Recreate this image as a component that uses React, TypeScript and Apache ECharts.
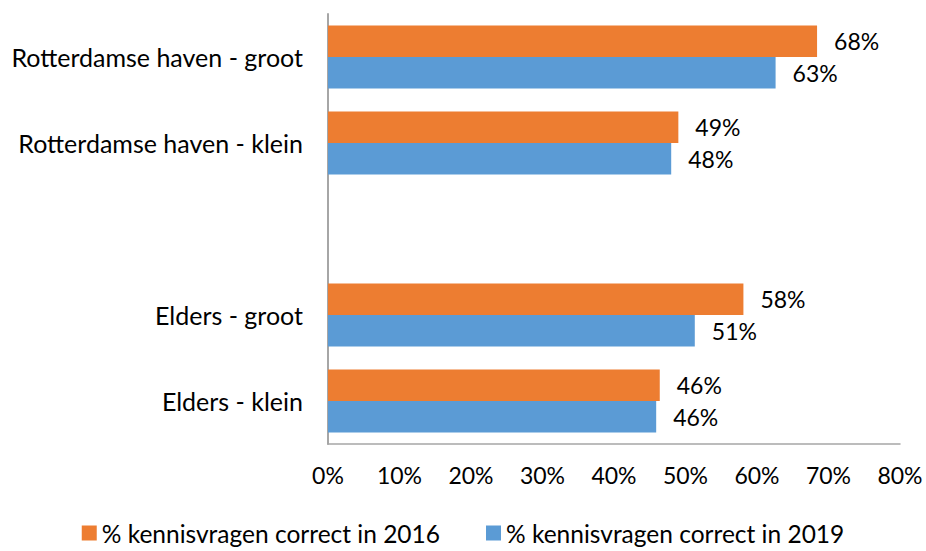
import React, { useEffect, useRef } from "react";
import * as echarts from "echarts";

const categories = [
  "Rotterdamse haven - groot",
  "Rotterdamse haven - klein",
  "",
  "Elders - groot",
  "Elders - klein",
];
const values2016: (number | string)[] = [68.4, 49.0, "-", 58.1, 46.4];
const values2019: (number | string)[] = [62.6, 48.0, "-", 51.3, 45.9];
const seriesNames = ["% kennisvragen correct in 2016", "% kennisvragen correct in 2019"];
const xTicks = [0, 10, 20, 30, 40, 50, 60, 70, 80];

const FONT = "Lato";

export default function App() {
  const ref = useRef<HTMLDivElement>(null);
  useEffect(() => {
    if (!ref.current) return;
    const chart = echarts.init(ref.current, undefined, { renderer: "svg" });
    const labelCfg = {
      show: true,
      position: "right" as const,
      distance: 17,
      color: "#000",
      fontFamily: FONT,
      fontSize: 23,
      formatter: (p: any) => Math.round(p.value) + "%",
    };
    chart.setOption({
      animation: false,
      textStyle: { fontFamily: FONT },
      grid: { left: 328, right: 26, top: 14, bottom: 107, containLabel: false },
      legend: {
        top: 520,
        left: "center",
        padding: 0,
        itemWidth: 15,
        itemHeight: 15,
        itemGap: 46,
        icon: "rect",
        textStyle: { fontFamily: FONT, fontSize: 24.5, lineHeight: 26, color: "#000" },
        data: seriesNames,
      },
      xAxis: {
        type: "value",
        min: xTicks[0],
        max: xTicks[xTicks.length - 1],
        interval: 10,
        axisLine: { show: true, lineStyle: { color: "#A6A6A6", width: 1.5 } },
        axisTick: { show: false },
        splitLine: { show: false },
        axisLabel: {
          margin: 19,
          color: "#000",
          fontFamily: FONT,
          fontSize: 23,
          formatter: (v: number) => v + "%",
        },
      },
      yAxis: {
        type: "category",
        inverse: true,
        data: categories,
        axisLine: { show: true, lineStyle: { color: "#A6A6A6", width: 2 } },
        axisTick: { show: false },
        axisLabel: { margin: 25, color: "#000", fontFamily: FONT, fontSize: 25 },
      },
      series: [
        {
          name: seriesNames[0],
          type: "bar",
          data: values2016,
          itemStyle: { color: "#ED7D31" },
          barGap: "0%",
          barCategoryGap: "27%",
          label: labelCfg,
        },
        {
          name: seriesNames[1],
          type: "bar",
          data: values2019,
          itemStyle: { color: "#5B9BD5" },
          barGap: "0%",
          barCategoryGap: "27%",
          label: labelCfg,
        },
      ],
    });
    return () => chart.dispose();
  }, []);
  return <div ref={ref} style={{ width: 926, height: 551, position: "absolute", left: 0, top: 0 }} />;
}
